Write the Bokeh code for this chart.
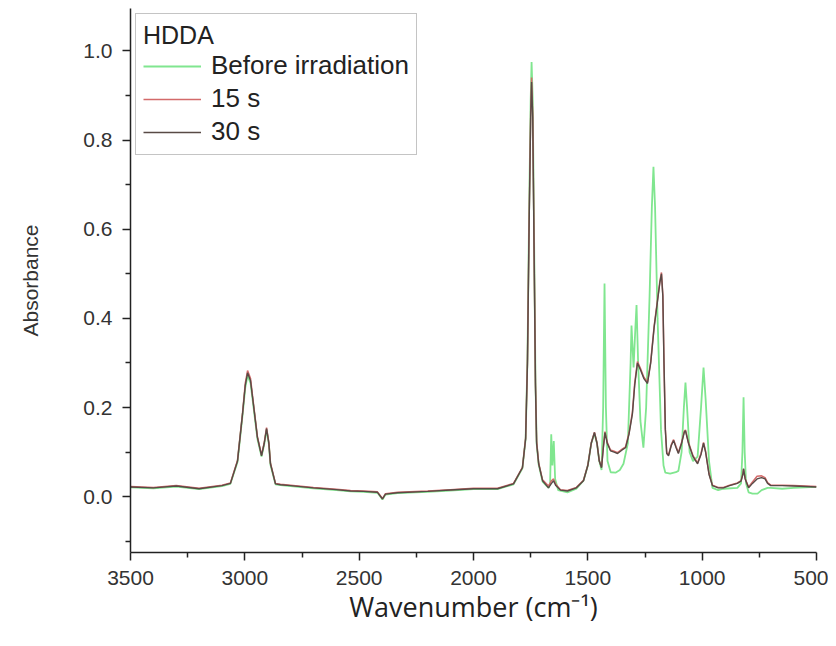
from bokeh.plotting import figure
from bokeh.models import Range1d, FixedTicker, Legend, LegendItem, NumeralTickFormatter
from bokeh.embed import file_html
from bokeh.resources import INLINE

# ---- data ----
wn_30 = [3500, 3400, 3300, 3200, 3100, 3063, 3032, 3010, 2998, 2988, 2975, 2966, 2945, 2927, 2915, 2905,
         2895, 2888, 2866, 2844, 2800, 2700, 2600, 2538, 2481, 2420, 2398, 2385, 2332, 2200, 2101, 2000,
         1895, 1825, 1786, 1772, 1764, 1757, 1750, 1746, 1741, 1735, 1729, 1724, 1715, 1698, 1672, 1659,
         1650, 1640, 1620, 1589, 1550, 1519, 1500, 1485, 1471, 1460, 1450, 1440, 1432, 1425, 1415, 1401,
         1385, 1370, 1350, 1335, 1320, 1305, 1295, 1283, 1270, 1255, 1239, 1225, 1210, 1195, 1185, 1178,
         1172, 1167, 1161, 1155, 1147, 1135, 1125, 1114, 1104, 1090, 1078, 1073, 1060, 1040, 1020, 1005,
         994, 985, 970, 955, 930, 907, 880, 846, 830, 822, 819, 812, 797, 780, 760, 740, 725, 714, 700,
         650, 600, 550, 500]
abs_30 = [0.022, 0.020, 0.024, 0.018, 0.025, 0.030, 0.080, 0.186, 0.250, 0.278, 0.260, 0.222, 0.133, 0.092,
          0.120, 0.153, 0.120, 0.074, 0.029, 0.027, 0.025, 0.020, 0.016, 0.013, 0.012, 0.010, -0.005, 0.006,
          0.009, 0.012, 0.015, 0.018, 0.018, 0.029, 0.065, 0.130, 0.300, 0.600, 0.850, 0.930, 0.850, 0.550,
          0.250, 0.120, 0.074, 0.036, 0.020, 0.030, 0.036, 0.025, 0.015, 0.013, 0.020, 0.036, 0.070, 0.120,
          0.144, 0.120, 0.080, 0.065, 0.110, 0.144, 0.120, 0.103, 0.100, 0.097, 0.105, 0.110, 0.140, 0.186,
          0.250, 0.300, 0.285, 0.265, 0.254, 0.300, 0.380, 0.440, 0.480, 0.500, 0.450, 0.300, 0.150, 0.097,
          0.092, 0.115, 0.126, 0.110, 0.097, 0.120, 0.145, 0.148, 0.120, 0.090, 0.074, 0.095, 0.120, 0.100,
          0.050, 0.025, 0.020, 0.020, 0.025, 0.030, 0.035, 0.050, 0.063, 0.040, 0.020, 0.030, 0.040, 0.043,
          0.040, 0.030, 0.025, 0.025, 0.024, 0.023, 0.022]

wn_15 = [3500, 3400, 3300, 3200, 3100, 3063, 3032, 3010, 2998, 2988, 2975, 2966, 2945, 2927, 2915, 2905,
         2895, 2888, 2866, 2844, 2800, 2700, 2600, 2538, 2481, 2420, 2398, 2385, 2332, 2200, 2101, 2000,
         1895, 1825, 1786, 1772, 1764, 1757, 1750, 1746, 1741, 1735, 1729, 1724, 1715, 1698, 1672, 1659,
         1650, 1640, 1620, 1589, 1550, 1519, 1500, 1485, 1471, 1460, 1450, 1440, 1432, 1425, 1415, 1401,
         1385, 1370, 1350, 1335, 1320, 1305, 1295, 1283, 1270, 1255, 1239, 1225, 1210, 1195, 1185, 1178,
         1172, 1167, 1161, 1155, 1147, 1135, 1125, 1114, 1104, 1090, 1078, 1073, 1060, 1040, 1020, 1005,
         994, 985, 970, 955, 930, 907, 880, 846, 830, 822, 819, 812, 797, 780, 760, 740, 725, 714, 700,
         650, 600, 550, 500]
abs_15 = [0.023, 0.021, 0.025, 0.019, 0.026, 0.031, 0.082, 0.188, 0.255, 0.283, 0.265, 0.225, 0.135, 0.094,
          0.122, 0.155, 0.122, 0.076, 0.030, 0.028, 0.026, 0.021, 0.017, 0.014, 0.013, 0.011, -0.004, 0.007,
          0.010, 0.013, 0.016, 0.019, 0.019, 0.030, 0.066, 0.132, 0.305, 0.610, 0.860, 0.940, 0.860, 0.560,
          0.255, 0.125, 0.076, 0.038, 0.024, 0.036, 0.040, 0.028, 0.016, 0.014, 0.021, 0.037, 0.071, 0.121,
          0.145, 0.121, 0.081, 0.067, 0.114, 0.146, 0.122, 0.105, 0.102, 0.099, 0.107, 0.112, 0.143, 0.190,
          0.255, 0.303, 0.288, 0.268, 0.257, 0.303, 0.383, 0.443, 0.483, 0.503, 0.453, 0.303, 0.152, 0.099,
          0.094, 0.117, 0.128, 0.112, 0.099, 0.122, 0.147, 0.150, 0.122, 0.092, 0.076, 0.097, 0.122, 0.102,
          0.052, 0.026, 0.021, 0.021, 0.026, 0.031, 0.036, 0.052, 0.062, 0.041, 0.022, 0.033, 0.046, 0.047,
          0.043, 0.032, 0.026, 0.026, 0.025, 0.024, 0.023]

wn_before = [3500, 3400, 3300, 3200, 3100, 3063, 3032, 3010, 2998, 2988, 2975, 2966, 2945, 2927, 2915, 2905,
             2895, 2888, 2866, 2844, 2800, 2700, 2600, 2538, 2481, 2420, 2398, 2385, 2332, 2200, 2101, 2000,
             1895, 1825, 1786, 1772, 1764, 1757, 1750, 1746, 1741, 1735, 1729, 1724, 1715, 1698, 1672, 1665,
             1660, 1655, 1649, 1643, 1630, 1589, 1550, 1519, 1500, 1485, 1471, 1460, 1450, 1440, 1433, 1427,
             1421, 1414, 1400, 1379, 1360, 1344, 1325, 1313, 1309, 1303, 1300, 1292, 1287, 1280, 1270, 1257,
             1245, 1230, 1220, 1213, 1206, 1195, 1180, 1169, 1161, 1140, 1115, 1104, 1090, 1080, 1073, 1066,
             1055, 1040, 1020, 1005, 994, 985, 970, 955, 930, 907, 846, 830, 824, 819, 814, 808, 797, 780,
             758, 740, 714, 700, 650, 600, 500]
abs_before = [0.021, 0.019, 0.023, 0.017, 0.024, 0.029, 0.078, 0.183, 0.245, 0.272, 0.255, 0.218, 0.130, 0.090,
              0.118, 0.150, 0.118, 0.072, 0.028, 0.026, 0.024, 0.019, 0.015, 0.012, 0.011, 0.009, -0.006, 0.005,
              0.008, 0.011, 0.014, 0.017, 0.017, 0.028, 0.064, 0.130, 0.310, 0.630, 0.890, 0.975, 0.890, 0.580,
              0.260, 0.120, 0.072, 0.034, 0.020, 0.030, 0.140, 0.070, 0.125, 0.040, 0.015, 0.010, 0.018, 0.036,
              0.070, 0.120, 0.142, 0.120, 0.080, 0.060, 0.200, 0.478, 0.200, 0.080, 0.055, 0.054, 0.060, 0.074,
              0.120, 0.300, 0.384, 0.320, 0.290, 0.380, 0.430, 0.300, 0.170, 0.110, 0.200, 0.450, 0.650, 0.740,
              0.650, 0.400, 0.150, 0.070, 0.054, 0.052, 0.055, 0.058, 0.100, 0.200, 0.256, 0.200, 0.100, 0.080,
              0.090, 0.200, 0.290, 0.220, 0.080, 0.020, 0.015, 0.018, 0.020, 0.030, 0.100, 0.223, 0.100, 0.030,
              0.010, 0.007, 0.007, 0.015, 0.020, 0.020, 0.018, 0.020, 0.022]

series_labels = ["Before irradiation", "15 s", "30 s"]
legend_title = "HDDA"
x_ticks = [3500, 3000, 2500, 2000, 1500, 1000, 500]
y_ticks = [0.0, 0.2, 0.4, 0.6, 0.8, 1.0]

# ---- figure ----
p = figure(width=828, height=638, output_backend="svg", toolbar_location=None,
           x_range=Range1d(3500, 500), y_range=Range1d(-0.125, 1.095),
           min_border_left=130, min_border_right=12, min_border_top=8, min_border_bottom=86)
p.outline_line_color = None
p.xgrid.visible = False
p.ygrid.visible = False
p.background_fill_color = "white"

l_before = p.line(wn_before, abs_before, line_color="#80e68f", line_width=1.8)
l_15 = p.line(wn_15, abs_15, line_color="#d36a6a", line_width=1.5)
l_30 = p.line(wn_30, abs_30, line_color="#584a46", line_width=1.4)

legend = Legend(items=[LegendItem(label=series_labels[0], renderers=[l_before]),
                       LegendItem(label=series_labels[1], renderers=[l_15]),
                       LegendItem(label=series_labels[2], renderers=[l_30])],
                location="top_left")
legend.title = legend_title
legend.title_text_font = "Liberation Sans"
legend.title_text_font_size = "25px"
legend.title_text_font_style = "normal"
legend.title_text_color = "#222222"
legend.title_standoff = 0
legend.label_text_font = "Liberation Sans"
legend.label_text_font_size = "26px"
legend.label_text_color = "#222222"
legend.glyph_width = 58
legend.glyph_height = 30
legend.label_height = 30
legend.spacing = 2
legend.padding = 7
legend.margin = 5
legend.label_standoff = 10
legend.border_line_color = "#8a8a8a"
legend.border_line_width = 1.5
legend.background_fill_alpha = 1.0
p.add_layout(legend, "center")

for ax in (p.xaxis[0], p.yaxis[0]):
    ax.axis_line_color = "#222222"
    ax.axis_line_width = 1.5
    ax.major_tick_line_color = "#222222"
    ax.minor_tick_line_color = "#222222"
    ax.major_tick_line_width = 1.5
    ax.minor_tick_line_width = 1.5
    ax.major_tick_in = 0
    ax.major_tick_out = 8
    ax.minor_tick_in = 0
    ax.minor_tick_out = 5
    ax.major_label_text_font = "Liberation Sans"
    ax.major_label_text_font_size = "21px"
    ax.major_label_text_color = "#333333"

p.xaxis.ticker = FixedTicker(ticks=x_ticks, minor_ticks=[3250, 2750, 2250, 1750, 1250, 750])
p.yaxis.ticker = FixedTicker(ticks=y_ticks, minor_ticks=[-0.1, 0.1, 0.3, 0.5, 0.7, 0.9])
p.yaxis.formatter = NumeralTickFormatter(format="0.0")

p.xaxis.axis_label = "Wavenumber (cm⁻¹)"
p.xaxis.axis_label_text_font = "Open Sans"
p.xaxis.axis_label_text_font_size = "27px"
p.xaxis.axis_label_text_font_style = "normal"
p.xaxis.axis_label_text_color = "#222222"
p.xaxis.axis_label_standoff = 0
p.xaxis.major_label_standoff = 10

p.yaxis.axis_label = "Absorbance"
p.yaxis.axis_label_text_font = "Liberation Sans"
p.yaxis.axis_label_text_font_size = "21px"
p.yaxis.axis_label_text_font_style = "normal"
p.yaxis.axis_label_text_color = "#333333"
p.yaxis.axis_label_standoff = 38
p.yaxis.major_label_standoff = 10

open("out.html", "w").write(file_html(p, INLINE))
